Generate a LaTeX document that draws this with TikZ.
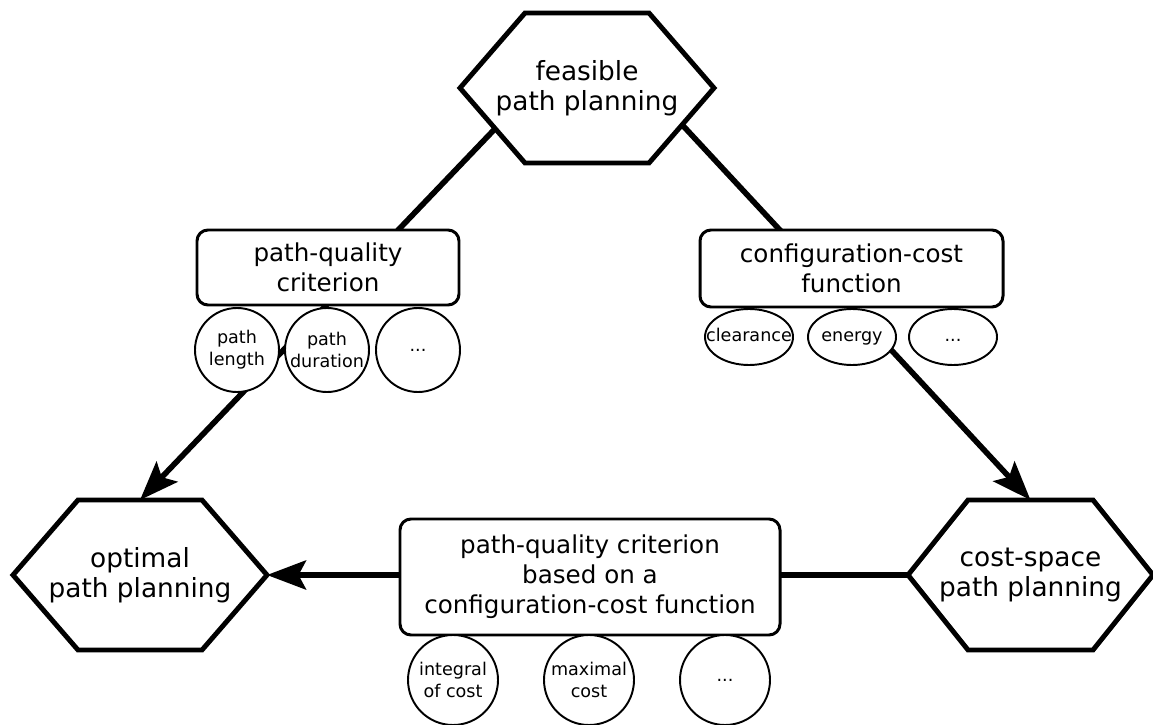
\documentclass[tikz,border=0pt]{standalone}
\usepackage{fontspec}
\setmainfont{DejaVu Sans}
\usetikzlibrary{shapes.geometric,arrows.meta,backgrounds}

\tikzset{
  plan/.style={rectangle, outer sep=0pt, inner sep=0pt, minimum width=5.08cm, minimum height=3cm,
    align=center, font=\fontsize{15}{17}\selectfont},
  planline/.style={draw, fill=white, line width=2.8pt, line join=miter},
  crit/.style={rectangle, rounded corners=0.22cm, draw, fill=white, line width=1.7pt,
    inner sep=0pt, align=center, font=\fontsize{14}{17}\selectfont},
  item/.style={circle, draw, fill=white, line width=1.1pt, minimum size=1.68cm, inner sep=0pt,
    align=center, font=\fontsize{10}{12.5}\selectfont},
  itemell/.style={ellipse, draw, fill=white, line width=1.1pt, minimum width=1.76cm,
    minimum height=1.12cm, inner xsep=-0.25cm, inner ysep=0pt, text height=0.75em, text depth=0.2em,
    font=\fontsize{10}{12.5}\selectfont},
  link/.style={line width=3.2pt, -{Stealth[length=0.78cm, width=0.58cm, inset=0.15cm]}},
}
% hexagon drawn round a plan node
\newcommand\planhex[2][1.3cm]{\draw[planline] (#2.west) -- ([xshift=#1]#2.north west) -- ([xshift=-#1]#2.north east) -- (#2.east) -- ([xshift=-#1]#2.south east) -- ([xshift=#1]#2.south west) -- cycle;}

\begin{document}
\begin{tikzpicture}
			\useasboundingbox (0,0) rectangle (23.06,14.48);
			
			%%%%% planning problems %%%%%
			\node[plan] (feasible) at (11.74,12.72) {feasible\\path planning};
			\node[plan] (optimal) at (2.8,2.98) {optimal\\path planning};
			\node[plan, minimum width=4.9cm] (costspace) at (20.61,2.98) {cost-space\\path planning};
			
			%%%%% criteria %%%%%
			\node[crit, minimum width=5.24cm, minimum height=1.5cm] (pathcrit) at (6.56,9.13) {path-quality\\criterion};
			\node[crit, minimum width=6.06cm, minimum height=1.54cm] (costfn) at (17.03,9.11) {configuration-cost\\function};
			\node[crit, minimum width=7.6cm, minimum height=2.32cm] (combined) at (11.8,2.94) {path-quality criterion\\based on a\\configuration-cost function};
			
			%%%%% examples %%%%%
			\node[item] (length) at (4.74,7.48) {path\\length};
			\node[item] (duration) at (6.54,7.48) {path\\duration};
			\node[item] (pathmore) at (8.36,7.48) {...};
			
			\node[itemell] (clearance) at (14.98,7.74) {clearance};
			\node[itemell] (energy) at (17.04,7.74) {energy};
			\node[itemell] (costmore) at (19.06,7.74) {...};
			
			\node[item, minimum size=1.8cm] (integral) at (9.06,0.88) {integral\\of cost};
			\node[item, minimum size=1.8cm] (maximal) at (11.78,0.88) {maximal\\cost};
			\node[item, minimum size=1.8cm] (combmore) at (14.5,0.88) {...};
			
			%%%%% connectors %%%%%
			\begin{scope}[on background layer]
				\draw[link] ([xshift=-1.06cm]feasible.center) -- (optimal.north);
				\draw[link] ([xshift=1.22cm]feasible.center) -- (costspace.north);
				\draw[link] (costspace.west) -- (optimal.east);
				
				\planhex{feasible}
				\planhex{optimal}
				\planhex[1.2cm]{costspace}
			\end{scope}
		\end{tikzpicture}
\end{document}
